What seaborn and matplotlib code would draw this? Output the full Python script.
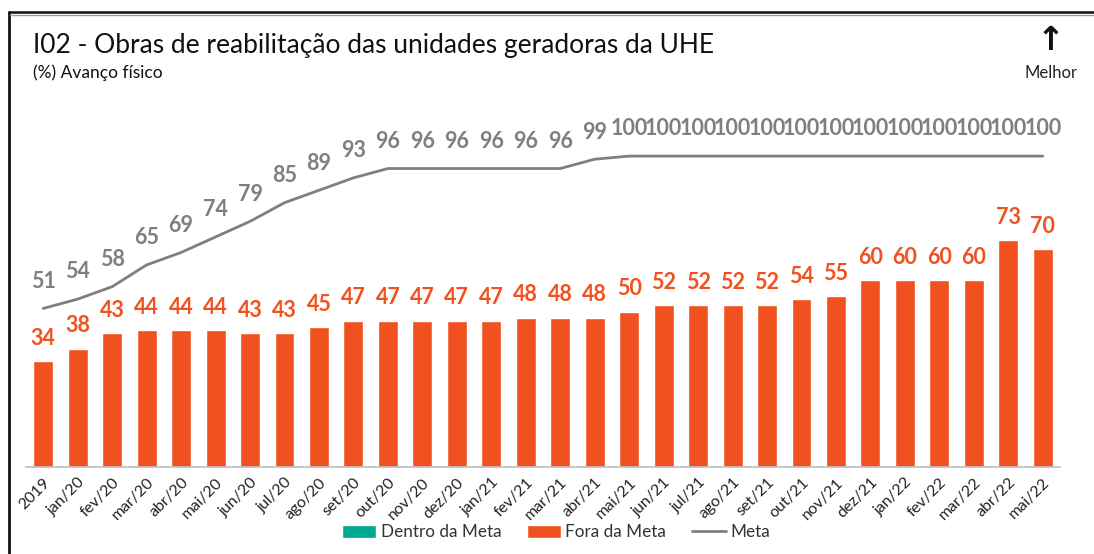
import matplotlib
matplotlib.use("Agg")
import matplotlib.pyplot as plt
from matplotlib.lines import Line2D
from matplotlib.patches import Patch
import seaborn as sns
import pandas as pd

# Monthly physical progress of the generating-unit rehabilitation works
categorias = ["2019", "jan/20", "fev/20", "mar/20", "abr/20", "mai/20", "jun/20",
              "jul/20", "ago/20", "set/20", "out/20", "nov/20", "dez/20", "jan/21",
              "fev/21", "mar/21", "abr/21", "mai/21", "jun/21", "jul/21", "ago/21",
              "set/21", "out/21", "nov/21", "dez/21", "jan/22", "fev/22", "mar/22",
              "abr/22", "mai/22"]
realizado = [34, 38, 43, 44, 44, 44, 43, 43, 45, 47, 47, 47, 47, 47, 48, 48, 48, 50,
             52, 52, 52, 52, 54, 55, 60, 60, 60, 60, 73, 70]
meta = [51, 54, 58, 65, 69, 74, 79, 85, 89, 93, 96, 96, 96, 96, 96, 96, 99, 100,
        100, 100, 100, 100, 100, 100, 100, 100, 100, 100, 100, 100]

LARANJA = "#F1511E"
VERDE = "#00A88F"
CINZA = "#7F7F7F"

sns.set_style("white")
plt.rcParams["font.family"] = ["Lato", "DejaVu Sans"]

df = pd.DataFrame({"mes": categorias, "pos": range(len(categorias)),
                   "realizado": realizado, "meta": meta})

fig = plt.figure(figsize=(10.94, 5.54), dpi=100)
ax = fig.add_axes([26 / 1094, 87 / 554, 1034 / 1094, 342 / 554])

sns.barplot(data=df, x="mes", y="realizado", color=LARANJA, saturation=1,
            width=0.58, ax=ax)
sns.lineplot(data=df, x="pos", y="meta", color=CINZA, linewidth=2, ax=ax)

for i, v in enumerate(realizado):
    ax.annotate(f"{v}", (i, v), xytext=(0, 9), textcoords="offset points",
                ha="center", va="bottom", fontsize=15.5, fontweight="bold",
                color=LARANJA)
for i, v in enumerate(meta):
    ax.annotate(f"{v}", (i, v), xytext=(0, 12), textcoords="offset points",
                ha="center", va="bottom", fontsize=15.5, fontweight="bold",
                color=CINZA)

ax.set_xlim(-0.5, len(categorias) - 0.5)
ax.set_ylim(0, 110)
ax.set_xlabel("")
ax.set_ylabel("")
ax.set_yticks([])
for s in ["left", "right", "top"]:
    ax.spines[s].set_visible(False)
ax.spines["bottom"].set_color("#BFBFBF")
ax.spines["bottom"].set_linewidth(1.2)

ax.set_xticks(range(len(categorias)))
ax.set_xticklabels(categorias, rotation=45, ha="right", rotation_mode="anchor",
                   fontsize=11.5, color="#222222")
ax.tick_params(axis="x", which="major", length=0, pad=6)
ax.set_xticks([i - 0.5 for i in range(len(categorias) + 1)], minor=True)
ax.tick_params(axis="x", which="minor", length=6, color="#BFBFBF", width=1.2,
               direction="out")

# Outer frame: left edge and double top rule
fig.add_artist(Line2D([9 / 1094, 9 / 1094], [0, 1 - 12 / 554],
                      transform=fig.transFigure, color="#111111", lw=2))
fig.add_artist(Line2D([9 / 1094, 1], [1 - 12 / 554, 1 - 12 / 554],
                      transform=fig.transFigure, color="#111111", lw=1.8))
fig.add_artist(Line2D([10 / 1094, 1], [1 - 15 / 554, 1 - 15 / 554],
                      transform=fig.transFigure, color="#A0A0A0", lw=1))

fig.text(33 / 1094, 1 - 45 / 554, "I02 - Obras de reabilitação das unidades geradoras da UHE",
         fontsize=19, va="center", ha="left", color="#111111")
fig.text(33 / 1094, 1 - 73 / 554, "(%) Avanço físico", fontsize=12.5,
         va="center", ha="left", color="#111111")
fig.text(1051 / 1094, 1 - 40 / 554, "↑", fontsize=24, fontweight="bold",
         va="center", ha="center", color="#111111", family=["DejaVu Sans"])
fig.text(1051 / 1094, 1 - 73 / 554, "Melhor", fontsize=12, va="center",
         ha="center", color="#222222")

handles = [Patch(facecolor=VERDE, label="Dentro da Meta"),
           Patch(facecolor=LARANJA, label="Fora da Meta"),
           Line2D([], [], color=CINZA, lw=2, label="Meta")]
fig.legend(handles=handles, loc="center", bbox_to_anchor=(556 / 1094, 1 - 532 / 554),
           ncol=3, frameon=False, fontsize=12.3, handlelength=2.0, handleheight=0.8,
           handletextpad=0.25, columnspacing=1.5, labelcolor="#333333")

fig.savefig("out.png", dpi=100)
